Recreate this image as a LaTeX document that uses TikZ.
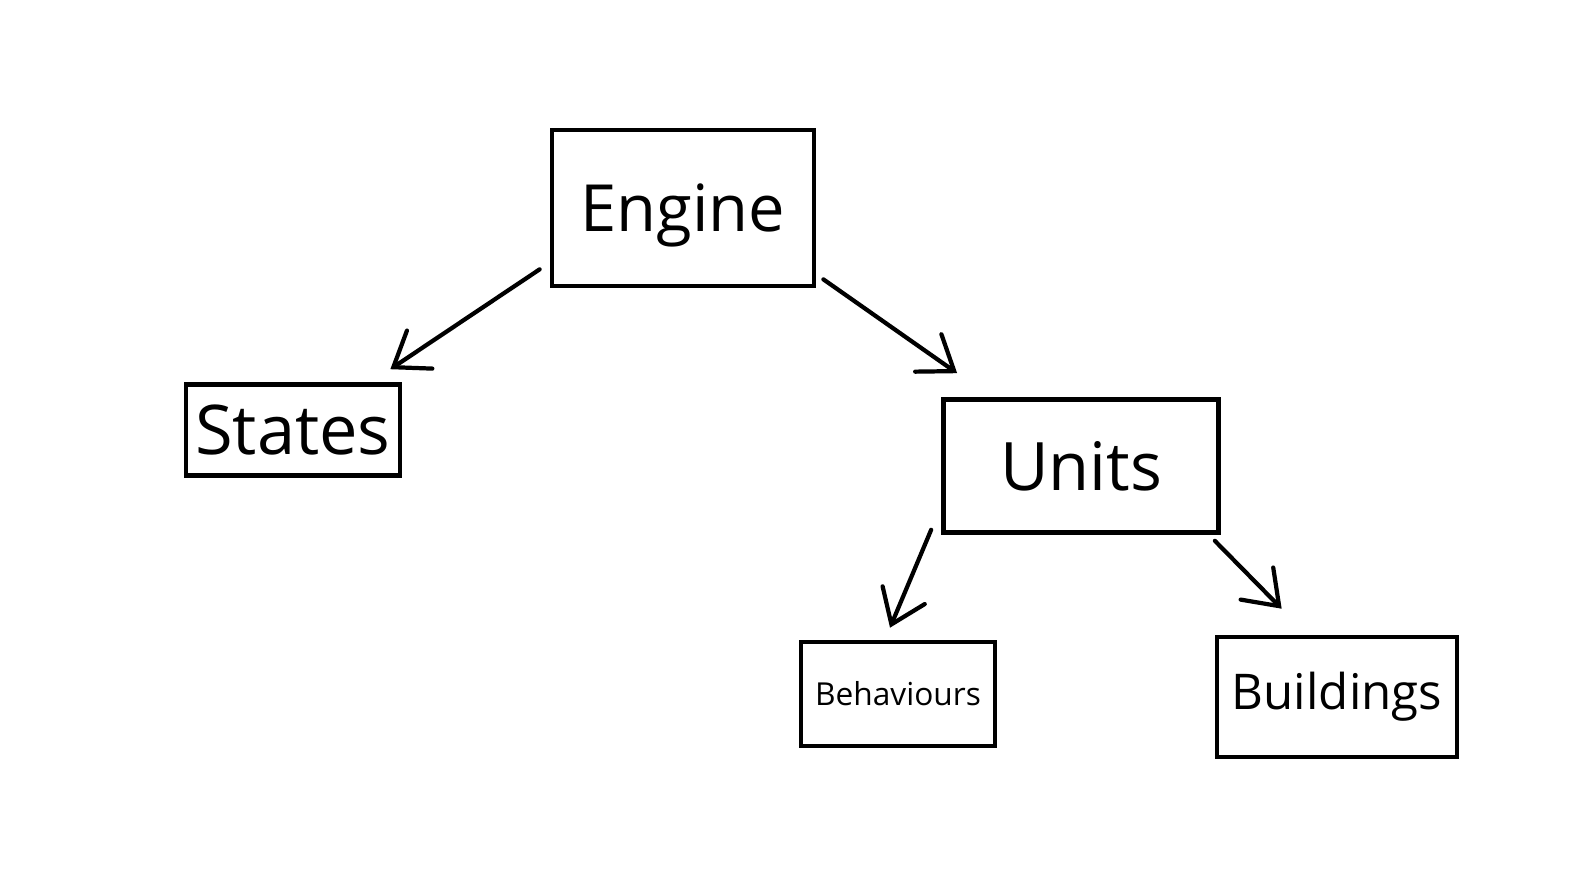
\documentclass[tikz,border=0pt]{standalone}
\usepackage{fontspec}
\setmainfont{Open Sans}
\usetikzlibrary{arrows.meta}
\begin{document}
\begin{tikzpicture}[x=0.01cm, y=-0.01cm,
  box/.style={draw, line width=1.3pt, rectangle, inner sep=0pt},
  arr/.style={draw, line width=1.2pt, line cap=round,
    -{Straight Barb[length=9pt, width=13pt, line cap=round]}}]
\useasboundingbox (0,0) rectangle (1592,872);
\node[box, minimum width=2.62cm, minimum height=1.56cm, text depth=0pt, font=\fontsize{18.5}{22}\selectfont] (engine) at (683,208) {Engine};
\node[box, minimum width=2.14cm, minimum height=0.91cm, font=\fontsize{19.5}{22}\selectfont] (states) at (293,430) {States};
\node[box, minimum width=2.75cm, minimum height=1.33cm, font=\fontsize{19}{22}\selectfont] (units) at (1081,466) {Units};
\node[box, minimum width=1.94cm, minimum height=1.04cm, font=\fontsize{9}{11}\selectfont] (behaviours) at (898,694) {Behaviours};
\node[box, minimum width=2.40cm, minimum height=1.20cm, font=\fontsize{14}{17}\selectfont] (buildings) at (1337,697) {Buildings};
\path[arr] ([shift={(-10,-19)}]engine.south west) -- ([shift={(-12,-13)}]states.north east);
\path[arr] ([shift={(7,-9)}]engine.south east) -- ([shift={(16,-24)}]units.north west);
\path[arr] ([shift={(-10,-5)}]units.south west) -- ([shift={(-8,-12)}]behaviours.north);
\path[arr] ([shift={(-6,6)}]units.south east) -- ([shift={(67,-26)}]buildings.north west);
\end{tikzpicture}
\end{document}
